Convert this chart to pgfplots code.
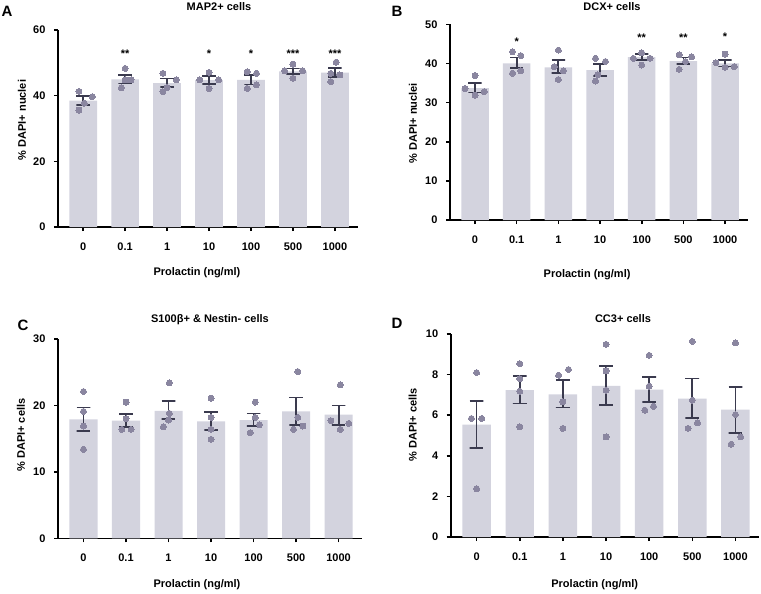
\documentclass[border=0pt]{standalone}
\usepackage{fontspec}
\setmainfont{Liberation Sans}
\usepackage{pgfplots}
\pgfplotsset{compat=1.18}
\definecolor{barc}{RGB}{211,211,222}
\definecolor{dotc}{RGB}{138,134,160}
\definecolor{errc}{RGB}{58,58,78}
\newcommand{\lfont}{\bfseries\fontsize{11}{13}\selectfont}
\pgfplotsset{
 panel/.style={
  scale only axis,
  axis lines=left,
  axis line style={-, line width=1.6pt, black},
  xmin=-0.6, xmax=6.55,
  ymin=0,
  xtick={0,...,6},
  xticklabels={0,0.1,1,10,100,500,1000},
  tick align=outside,
  major tick length=4pt,
  tick style={line width=1.6pt, black},
  xticklabel style={yshift=-8pt},
  yticklabel style={xshift=-5pt},
  /pgf/number format/assume math mode=true,
  ticklabel style={font=\lfont},
  label style={font=\lfont},
  xlabel={Prolactin (ng/ml)},
  clip=false,
  unbounded coords=jump,
 },
 bars/.style={ybar, bar width=0.66, fill=barc, draw=none, bar shift=0pt},
 dots/.style={only marks, color=dotc, mark=*, mark size=3pt, mark options={fill=dotc, draw=dotc, line width=0pt}},
 errs/.style={color=errc, line width=1.8pt, mark=none, unbounded coords=jump},
 stars/.style={only marks, mark=none, nodes near coords, point meta=explicit symbolic,
   nodes near coords align=center,
   every node near coord/.append style={font=\lfont, anchor=center, text=black}},
}
\begin{document}
\begin{tikzpicture}
\path[use as bounding box] (0pt,0pt) rectangle (761pt,-594pt);

% ---------------- A
\begin{axis}[panel, at={(58pt,-227pt)}, anchor=south west, width=300pt, height=197pt,
  ymax=60, ytick={0,20,40,60},
  ylabel={\% DAPI+ nuclei},
  ylabel style={at={(axis description cs:-0.12,0.543)}, anchor=center},
  xlabel style={at={(axis description cs:0.463,-0.234)}, anchor=center}]
\addplot[bars] table {
x y
0 38.5
1 45.0
2 43.8
3 44.7
4 44.8
5 47.4
6 47.0
};
\addplot[dots] table {
x y
-0.10 41.3
0.22 39.7
0.03 37.7
-0.10 35.6
1.00 48.3
0.91 42.4
1.14 44.8
1.00 44.8
1.90 46.8
2.22 44.8
1.90 41.2
2.00 42.5
3.00 47.1
3.23 44.8
3.00 42.2
2.78 44.8
3.91 47.3
4.13 46.8
3.91 42.2
4.13 43.3
5.00 49.6
4.80 47.6
5.23 47.6
5.00 45.3
6.03 50.2
5.90 46.8
6.12 46.3
5.90 44.3
};
\addplot[errs] table {
x y
-0.16 39.9
0.16 39.9
0 39.9
0 37.1
-0.16 37.1
0.16 37.1
nan nan
0.84 46.4
1.16 46.4
1 46.4
1 43.7
0.84 43.7
1.16 43.7
nan nan
1.84 45.2
2.16 45.2
2 45.2
2 42.6
1.84 42.6
2.16 42.6
nan nan
2.84 45.9
3.16 45.9
3 45.9
3 43.6
2.84 43.6
3.16 43.6
nan nan
3.84 46.3
4.16 46.3
4 46.3
4 43.4
3.84 43.4
4.16 43.4
nan nan
4.84 48.3
5.16 48.3
5 48.3
5 46.5
4.84 46.5
5.16 46.5
nan nan
5.84 48.4
6.16 48.4
6 48.4
6 45.6
5.84 45.6
6.16 45.6
};
\addplot[stars] table[meta=s] {
x y s
1 52.8 **
3 52.8 *
4 52.8 *
5 52.8 ***
6 52.8 ***
};
\end{axis}

% ---------------- B
\begin{axis}[panel, at={(450pt,-220pt)}, anchor=south west, width=298pt, height=195.7pt,
  ymax=50, ytick={0,10,20,30,40,50},
  ylabel={\% DAPI+ nuclei},
  ylabel style={at={(axis description cs:-0.124,0.495)}, anchor=center},
  xlabel style={at={(axis description cs:0.46,-0.281)}, anchor=center}]
\addplot[bars] table {
x y
0 33.7
1 40.0
2 39.0
3 38.3
4 41.6
5 40.6
6 40.0
};
\addplot[dots] table {
x y
0.00 36.9
-0.24 33.6
0.22 32.8
0.00 31.9
0.90 43.0
1.10 42.0
0.90 37.5
1.10 38.1
2.00 43.4
1.90 39.2
2.12 38.1
2.00 35.9
2.89 41.3
3.13 40.5
2.95 37.1
2.89 35.5
4.00 42.7
3.80 41.3
4.20 41.3
4.00 39.6
4.90 42.2
5.20 41.7
5.05 40.5
4.90 38.5
6.00 42.4
5.78 40.2
6.22 39.2
6.00 39.0
};
\addplot[errs] table {
x y
-0.16 35.0
0.16 35.0
0 35.0
0 32.6
-0.16 32.6
0.16 32.6
nan nan
0.84 41.5
1.16 41.5
1 41.5
1 38.8
0.84 38.8
1.16 38.8
nan nan
1.84 40.8
2.16 40.8
2 40.8
2 37.5
1.84 37.5
2.16 37.5
nan nan
2.84 39.9
3.16 39.9
3 39.9
3 36.8
2.84 36.8
3.16 36.8
nan nan
3.84 42.4
4.16 42.4
4 42.4
4 40.8
3.84 40.8
4.16 40.8
nan nan
4.84 41.5
5.16 41.5
5 41.5
5 39.8
4.84 39.8
5.16 39.8
nan nan
5.84 40.9
6.16 40.9
6 40.9
6 39.2
5.84 39.2
6.16 39.2
};
\addplot[stars] table[meta=s] {
x y s
1 45.5 *
4 46.7 **
5 46.7 **
6 46.8 *
};
\end{axis}

% ---------------- C
\begin{axis}[panel, at={(58pt,-538.3pt)}, anchor=south west, width=304pt, height=199.3pt,
  ymax=30, ytick={0,10,20,30},
  ylabel={\% DAPI+ cells},
  ylabel style={at={(axis description cs:-0.122,0.518)}, anchor=center},
  xlabel style={at={(axis description cs:0.457,-0.234)}, anchor=center}]
\addplot[bars] table {
x y
0 17.9
1 17.7
2 19.2
3 17.6
4 17.8
5 19.1
6 18.6
};
\addplot[dots] table {
x y
0.00 22.1
0.00 19.1
0.00 16.9
0.00 13.4
1.00 20.5
1.00 18.0
0.90 16.4
1.12 16.4
2.02 23.4
2.02 18.8
1.88 16.8
2.00 17.8
3.00 21.1
3.00 18.2
3.00 16.4
3.00 14.9
4.04 20.5
4.04 18.2
4.14 17.1
3.92 15.9
5.04 25.1
5.04 18.2
4.94 16.4
5.16 16.9
6.04 23.1
5.82 17.7
6.24 17.3
6.04 16.4
};
\addplot[errs] table {
x y
-0.16 19.7
0.16 19.7
0 19.7
0 16.2
-0.16 16.2
0.16 16.2
nan nan
0.84 18.7
1.16 18.7
1 18.7
1 16.8
0.84 16.8
1.16 16.8
nan nan
1.84 20.7
2.16 20.7
2 20.7
2 17.9
1.84 17.9
2.16 17.9
nan nan
2.84 19.0
3.16 19.0
3 19.0
3 16.3
2.84 16.3
3.16 16.3
nan nan
3.84 18.8
4.16 18.8
4 18.8
4 16.9
3.84 16.9
4.16 16.9
nan nan
4.84 21.2
5.16 21.2
5 21.2
5 17.1
4.84 17.1
5.16 17.1
nan nan
5.84 20.0
6.16 20.0
6 20.0
6 17.1
5.84 17.1
6.16 17.1
};
\end{axis}

% ---------------- D
\begin{axis}[panel, at={(450.7pt,-537pt)}, anchor=south west, width=308.5pt, height=203pt,
  ymax=10, ytick={0,2,4,6,8,10},
  ylabel={\% DAPI+ cells},
  ylabel style={at={(axis description cs:-0.123,0.552)}, anchor=center},
  xlabel style={at={(axis description cs:0.467,-0.236)}, anchor=center}]
\addplot[bars] table {
x y
0 5.54
1 7.23
2 7.03
3 7.44
4 7.26
5 6.82
6 6.28
};
\addplot[dots] table {
x y
0.00 8.10
-0.12 5.84
0.12 5.84
0.00 2.38
1.00 8.54
1.00 7.80
1.00 7.18
1.00 5.43
1.90 7.97
2.13 8.25
2.00 6.66
2.00 5.35
3.00 9.49
3.00 8.18
3.00 7.23
3.00 4.93
4.00 8.95
4.00 7.43
3.90 6.25
4.10 6.44
5.00 9.64
5.00 6.74
5.12 5.62
4.90 5.35
6.00 9.56
6.00 6.03
6.12 4.93
5.90 4.57
};
\addplot[errs] table {
x y
-0.16 6.71
0.16 6.71
0 6.71
0 4.39
-0.16 4.39
0.16 4.39
nan nan
0.84 7.92
1.16 7.92
1 7.92
1 6.58
0.84 6.58
1.16 6.58
nan nan
1.84 7.72
2.16 7.72
2 7.72
2 6.38
1.84 6.38
2.16 6.38
nan nan
2.84 8.43
3.16 8.43
3 8.43
3 6.49
2.84 6.49
3.16 6.49
nan nan
3.84 7.88
4.16 7.88
4 7.88
4 6.66
3.84 6.66
4.16 6.66
nan nan
4.84 7.81
5.16 7.81
5 7.81
5 5.87
4.84 5.87
5.16 5.87
nan nan
5.84 7.39
6.16 7.39
6 7.39
6 5.13
5.84 5.13
6.16 5.13
};
\end{axis}

% titles and panel letters
\node[font=\lfont, anchor=base] at (219pt,-11pt) {MAP2+ cells};
\node[font=\lfont, anchor=base] at (612pt,-11pt) {DCX+ cells};
\node[font=\lfont, anchor=base] at (210pt,-322pt) {S100β+ \& Nestin- cells};
\node[font=\lfont, anchor=base] at (623pt,-322pt) {CC3+ cells};
\node[font=\bfseries\fontsize{15}{17}\selectfont, anchor=base] at (7pt,-17pt) {A};
\node[font=\bfseries\fontsize{15}{17}\selectfont, anchor=base] at (397pt,-16.5pt) {B};
\node[font=\bfseries\fontsize{15}{17}\selectfont, anchor=base] at (23pt,-330.5pt) {C};
\node[font=\bfseries\fontsize{15}{17}\selectfont, anchor=base] at (397pt,-328.5pt) {D};
\end{tikzpicture}
\end{document}
